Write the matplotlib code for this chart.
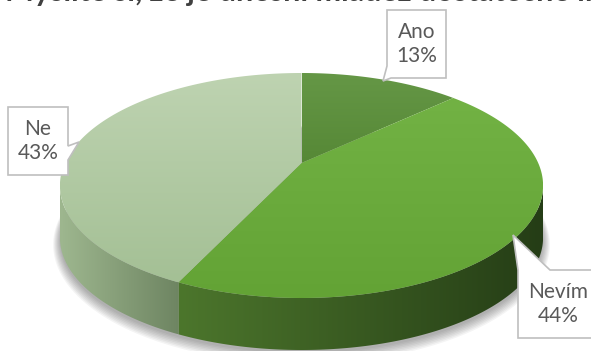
import numpy as np
import matplotlib.pyplot as plt
from matplotlib.patches import Polygon

labels = ['Ano', 'Nevím', 'Ne']
shares = [13, 44, 43]

# colours: top face (upper, lower), side face (left, right)
top_colors = [((101, 151, 70), (86, 136, 54)),
              ((114, 178, 68), (99, 163, 53)),
              ((190, 211, 177), (164, 192, 149))]
side_colors = [((70, 110, 45), (58, 92, 38)),
               ((76, 118, 44), (37, 61, 22)),
               ((158, 183, 143), (110, 133, 98))]

title = 'Myslíte si, že je dnešní mládež dostatečně informována?'

W, H = 591, 351
cx, cy = 301.5, 163.0
rx, ry = 236.7, 108.0
persp = 0.2
depth = 52


def project(theta, drop=0.0):
    u = np.sin(theta)
    v = np.cos(theta)
    w = 1 + persp * v
    return cx + rx * u / w, cy - ry * v / w + drop


def rgb(c):
    return np.array(c) / 255.0


def gradient_fill(ax, verts, c0, c1, horizontal=False):
    verts = np.asarray(verts)
    x0, y0 = verts.min(axis=0)
    x1, y1 = verts.max(axis=0)
    t = np.linspace(0, 1, 128)
    if horizontal:
        img = (1 - t)[None, :, None] * rgb(c0) + t[None, :, None] * rgb(c1)
    else:
        img = (1 - t)[:, None, None] * rgb(c0) + t[:, None, None] * rgb(c1)
    poly = Polygon(verts, closed=True, facecolor='none', edgecolor='none')
    ax.add_patch(poly)
    im = ax.imshow(img, extent=(x0, x1, y1, y0), origin='upper',
                   aspect='auto', interpolation='bilinear', zorder=poly.get_zorder())
    im.set_clip_path(poly)


fig = plt.figure(figsize=(W / 100, H / 100), dpi=100)
ax = fig.add_axes([0, 0, 1, 1])
ax.axis('off')

# slice angles, clockwise from 12 o'clock
frac = np.array(shares, dtype=float) / sum(shares)
edges = np.concatenate([[0], np.cumsum(frac)]) * 2 * np.pi

# soft shadow under the pie
full = np.linspace(0, 2 * np.pi, 400)
for i in range(8):
    sx, sy = project(full, depth + 3)
    sx = cx + (sx - cx) * (1 + i * 0.004)
    sy = cy + depth + (sy - cy - depth) * (1 + i * 0.008) + i * 0.4
    ax.add_patch(Polygon(np.column_stack([sx, sy]), closed=True,
                         facecolor='black', edgecolor='none', alpha=0.045, zorder=1))

# side walls: only the front part between the silhouette extremes
th_r = np.arctan2(np.sqrt(1 - persp ** 2), -persp)
th_l = 2 * np.pi - th_r
for k in range(len(shares)):
    a = max(edges[k], th_r)
    b = min(edges[k + 1], th_l)
    if b <= a:
        continue
    t = np.linspace(a, b, 120)
    tx, ty = project(t)
    bx, by = project(t[::-1], depth)
    verts = np.column_stack([np.concatenate([tx, bx]), np.concatenate([ty, by])])
    gradient_fill(ax, verts, *side_colors[k], horizontal=True)

# top faces
for k in range(len(shares)):
    t = np.linspace(edges[k], edges[k + 1], 150)
    px, py = project(t)
    verts = np.column_stack([np.concatenate([[cx], px]), np.concatenate([[cy], py])])
    gradient_fill(ax, verts, *top_colors[k])

# callouts with data labels
boxes = {
    'Ano': ([(387, 10), (446, 10), (446, 78), (391, 78), (383, 81), (387, 66)], (416.5, 44)),
    'Nevím': ([(518, 270), (513, 235), (550, 270), (600, 270), (600, 338), (518, 338)], (558, 304)),
    'Ne': ([(8, 107), (68, 107), (68, 146), (79, 142), (68, 160), (68, 175), (8, 175)], (38, 141)),
}
for name, share in zip(labels, shares):
    verts, (tx, ty) = boxes[name]
    ax.add_patch(Polygon(verts, closed=True, facecolor='white', edgecolor='#bfbfbf',
                         lw=1.2, zorder=5))
    ax.text(tx, ty, f'{name}\n{share}%', ha='center', va='center', fontsize=15,
            family='Lato', color='#595959', linespacing=1.25, zorder=6)

# chart title, mostly above the top edge of the canvas
fig.text(5 / W, 1 - 1 / H, title, ha='left', va='baseline', fontsize=22,
         fontweight='bold', family='Lato', color='#404040', zorder=6)

ax.set_xlim(0, W)
ax.set_ylim(H, 0)
fig.savefig('out.png', dpi=100)
